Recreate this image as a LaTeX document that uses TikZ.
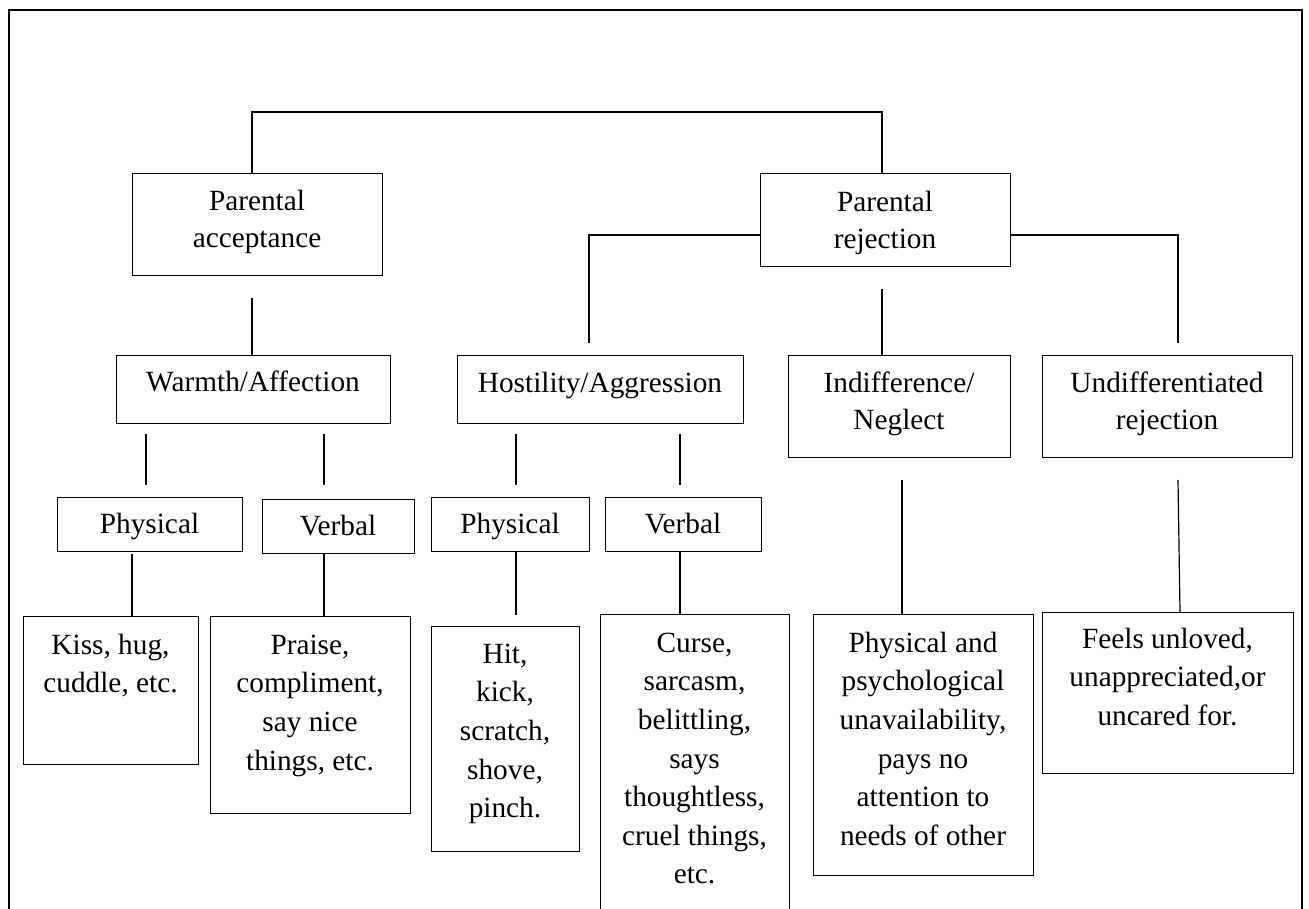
\documentclass[tikz,border=0pt]{standalone}
\usepackage{fontspec}
\setmainfont{Liberation Serif}
% fixed-height strut so every text block starts at the same distance above its first baseline
\newcommand\fs{\rule{0pt}{25pt}}
\tikzset{
  box/.style={draw, line width=1.2pt, rectangle, inner sep=0pt, anchor=north west},
  link/.style={draw, line width=1.2pt},
  txt/.style={anchor=north, align=center, inner sep=0pt,
              font=\fontsize{29.3}{38.6}\selectfont},
  htxt/.style={txt, font=\fontsize{29.3}{37}\selectfont},
}
\begin{document}
\begin{tikzpicture}[x=1pt,y=-1pt]
\useasboundingbox (0,0) rectangle (1309,909);
\clip (0,0) rectangle (1309,909);

% outer frame (runs past the lower edge)
\draw[line width=2pt] (9,960) -- (9,10) -- (1302,10) -- (1302,960);

% boxes
\node[box, minimum width=250, minimum height=102] (acc)    at (132,173) {};
\node[box, minimum width=250, minimum height=93]  (rej)    at (760,173) {};
\node[box, minimum width=274, minimum height=68]  (warm)   at (116,355) {};
\node[box, minimum width=286, minimum height=68]  (host)   at (457,355) {};
\node[box, minimum width=222, minimum height=102] (indif)  at (788,355) {};
\node[box, minimum width=250, minimum height=102] (undif)  at (1042,355) {};
\node[box, minimum width=185, minimum height=54]  (phys1)  at (57,497) {};
\node[box, minimum width=152, minimum height=54]  (verb1)  at (262,499) {};
\node[box, minimum width=158, minimum height=54]  (phys2)  at (431,497) {};
\node[box, minimum width=156, minimum height=54]  (verb2)  at (605,497) {};
\node[box, minimum width=175, minimum height=148] (kiss)   at (23,616) {};
\node[box, minimum width=200, minimum height=197] (praise) at (210,616) {};
\node[box, minimum width=148, minimum height=225] (hit)    at (431,626) {};
\node[box, minimum width=189, minimum height=340] (curse)  at (600,614) {};
\node[box, minimum width=220, minimum height=261] (psy)    at (813,614) {};
\node[box, minimum width=251, minimum height=161] (feels)  at (1042,612) {};

% texts
\node[htxt] (accT)    at (257,185.7)  {\fs Parental\\acceptance};
\node[htxt] (rejT)    at (885,186.7)  {\fs Parental\\rejection};
\node[htxt] (warmT)   at (253,366)    {\fs Warmth/Affection};
\node[htxt] (hostT)   at (600,367)    {\fs Hostility/Aggression};
\node[htxt] (indifT)  at (899,367)    {\fs Indifference/\\Neglect};
\node[htxt] (undifT)  at (1167,367)   {\fs Undifferentiated\\rejection};
\node[txt]  (phys1T)  at (149.5,508)  {\fs Physical};
\node[txt]  (verb1T)  at (338,510)    {\fs Verbal};
\node[txt]  (phys2T)  at (510,508)    {\fs Physical};
\node[txt]  (verb2T)  at (683,508)    {\fs Verbal};
\node[txt]  (kissT)   at (110.5,629)  {\fs Kiss, hug,\\cuddle, etc.};
\node[txt]  (praiseT) at (310,629)    {\fs Praise,\\compliment,\\say nice\\things, etc.};
\node[txt]  (hitT)    at (505,638)    {\fs Hit,\\kick,\\scratch,\\shove,\\pinch.};
\node[txt]  (curseT)  at (694.5,627)  {\fs Curse,\\sarcasm,\\belittling,\\says\\thoughtless,\\cruel things,\\etc.};
\node[txt]  (psyT)    at (923,627)    {\fs Physical and\\psychological\\unavailability,\\pays no\\attention to\\needs of other};
\node[txt]  (feelsT)  at (1167.5,623) {\fs Feels unloved,\\unappreciated,or\\uncared for.};

% connector points
\coordinate (t1) at (252,112);  \coordinate (t2) at (882,112);
\coordinate (hl) at (589,235);  \coordinate (hlE) at (589,343);
\coordinate (hr) at (1178,235); \coordinate (hrE) at (1178,343);
\coordinate (a1) at (252,298);
\coordinate (r1) at (882,289);
\coordinate (w1) at (146,434);  \coordinate (w1E) at (146,485);
\coordinate (w2) at (324,434);  \coordinate (w2E) at (324,485);
\coordinate (h1) at (516,434);  \coordinate (h1E) at (516,485);
\coordinate (h2) at (680,434);  \coordinate (h2E) at (680,485);
\coordinate (p1) at (132,554);
\coordinate (v1) at (324,0);
\coordinate (p2) at (516,0);    \coordinate (p2E) at (516,615);
\coordinate (v2) at (680,0);
\coordinate (n1) at (902,480);
\coordinate (u1) at (1178,480); \coordinate (u2) at (1180,0);

% connectors
\draw[link] (t1 |- acc.north) -- (t1) -- (t2) -- (t2 |- rej.north);
\draw[link] (hl -| rej.west) -- (hl) -- (hlE);
\draw[link] (hr -| rej.east) -- (hr) -- (hrE);
\draw[link] (a1) -- (a1 |- warm.north);
\draw[link] (r1) -- (r1 |- indif.north);
\draw[link] (w1) -- (w1E);
\draw[link] (w2) -- (w2E);
\draw[link] (h1) -- (h1E);
\draw[link] (h2) -- (h2E);
\draw[link] (p1) -- (p1 |- kiss.north);
\draw[link] (v1 |- verb1.south) -- (v1 |- praise.north);
\draw[link] (p2 |- phys2.south) -- (p2E);
\draw[link] (v2 |- verb2.south) -- (v2 |- curse.north);
\draw[link] (n1) -- (n1 |- psy.north);
\draw[link] (u1) -- (u2 |- feels.north);
\end{tikzpicture}
\end{document}
